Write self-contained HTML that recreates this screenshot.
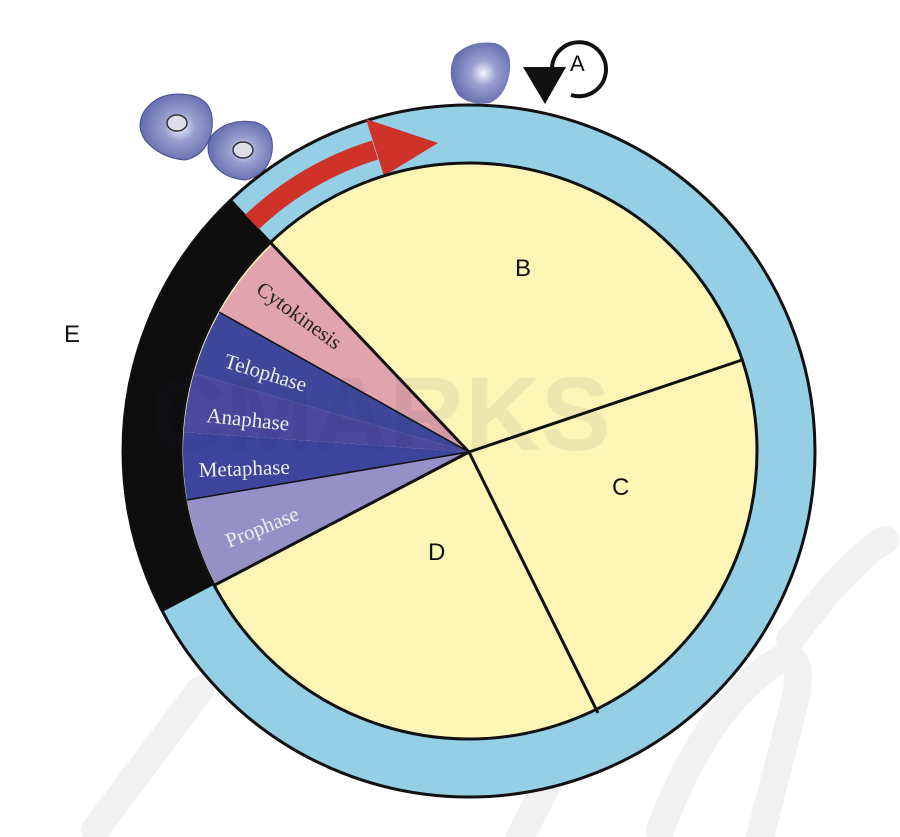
<!DOCTYPE html>
<html><head><style>html,body{margin:0;padding:0;background:#fff;}svg{display:block}</style></head>
<body>
<svg width="900" height="837" viewBox="0 0 900 837" xmlns="http://www.w3.org/2000/svg">
<defs>
<radialGradient id="cell" cx="0.55" cy="0.5" r="0.6">
<stop offset="0" stop-color="#f4f5fb"/><stop offset="0.35" stop-color="#9aa0d0"/><stop offset="1" stop-color="#5a64a8"/>
</radialGradient>
</defs>
<!-- watermark strokes -->
<g stroke="#f1f1f1" stroke-width="28" fill="none" stroke-linecap="round">
<path d="M95 830 L200 690"/>
<path d="M520 837 L560 760"/>
<path d="M660 830 Q710 700 780 660 Q810 650 790 720 L760 837"/>
<path d="M790 640 Q850 560 885 540"/>
</g>
<!-- outer ring -->
<circle cx="469" cy="451" r="346" fill="#94cfe6" stroke="#111" stroke-width="3"/>
<!-- black band -->
<path d="M469 451 L162.7 611.8 A346 346 0 0 1 231.6 199.4 Z" fill="#0d0d0d"/>
<!-- red arrow -->
<path d="M252 222 A316 316 0 0 1 375 150" fill="none" stroke="#cf3229" stroke-width="20"/>
<polygon points="384,176 366,119 438,143" fill="#cf3229"/>
<!-- inner yellow -->
<circle cx="469" cy="451" r="288" fill="#fdf5b6" stroke="#111" stroke-width="3"/>
<!-- sectors -->
<path d="M469 452 L215.7 584.5 A287 287 0 0 1 187.1 500 Z" fill="#9590c6"/>
<path d="M469 452 L187.1 500 A287 287 0 0 1 183.7 432.1 Z" fill="#3d449c"/>
<path d="M469 452 L183.7 432.1 A287 287 0 0 1 194 373.4 Z" fill="#4b489e"/>
<path d="M469 452 L194 373.4 A287 287 0 0 1 219.4 312.6 Z" fill="#3e4799"/>
<path d="M469 452 L219.4 312.6 A287 287 0 0 1 272.5 244.8 Z" fill="#e1a3ac"/>
<!-- lines -->
<g stroke="#111" stroke-width="3" fill="none">
<line x1="469" y1="452" x2="268" y2="240"/>
<line x1="469" y1="452" x2="213" y2="586"/>
<line x1="469" y1="452" x2="742" y2="360"/>
<line x1="469" y1="452" x2="598" y2="713"/>
<line x1="469" y1="452" x2="219" y2="312" stroke-width="1.5"/>
<line x1="469" y1="452" x2="187" y2="500" stroke-width="1.5"/>
</g>
<!-- faint watermark text -->
<text x="150" y="450" font-family="Liberation Sans, sans-serif" font-weight="bold" font-size="105" fill="#1a2f55" fill-opacity="0.07">CMARKS</text>
<!-- sector labels -->
<g font-family="Liberation Serif, serif" font-size="21">
<text x="0" y="0" transform="translate(255,292) rotate(36)" fill="#222">Cytokinesis</text>
<text x="0" y="0" transform="translate(223,367) rotate(17)" fill="#eee">Telophase</text>
<text x="0" y="0" transform="translate(206,422) rotate(6)" fill="#eee">Anaphase</text>
<text x="0" y="0" transform="translate(199,477) rotate(-2)" fill="#eee">Metaphase</text>
<text x="0" y="0" transform="translate(229,548) rotate(-22)" fill="#eee">Prophase</text>
</g>
<!-- cells -->
<path d="M145 110 Q160 90 190 95 Q215 100 212 128 Q208 155 185 160 Q160 158 145 140 Q135 125 145 110 Z" fill="url(#cell)" stroke="#4a5090" stroke-width="1"/>
<ellipse cx="177" cy="123" rx="10" ry="8" fill="#dcdde8" stroke="#333" stroke-width="1.5"/>
<path d="M212 135 Q228 118 255 122 Q275 128 272 152 Q268 175 245 180 Q222 178 212 162 Q204 148 212 135 Z" fill="url(#cell)" stroke="#4a5090" stroke-width="1"/>
<ellipse cx="243" cy="150" rx="10" ry="8" fill="#dcdde8" stroke="#333" stroke-width="1.5"/>
<path d="M455 55 Q470 40 495 43 Q512 48 510 70 Q507 95 490 103 Q470 106 458 95 Q445 75 455 55 Z" fill="url(#cell)"/>
<!-- A loop -->
<path d="M571 95 A27 27 0 1 0 552 70" fill="none" stroke="#111" stroke-width="4"/>
<polygon points="523,67 566,67 545,104" fill="#111"/>
<text x="570" y="71" font-family="Liberation Sans, sans-serif" font-size="22" fill="#111">A</text>
<!-- letters -->
<g font-family="Liberation Sans, sans-serif" font-size="24" fill="#111">
<text x="515" y="276">B</text>
<text x="612" y="495">C</text>
<text x="428" y="560">D</text>
<text x="64" y="342">E</text>
</g>
</svg>
</body></html>
